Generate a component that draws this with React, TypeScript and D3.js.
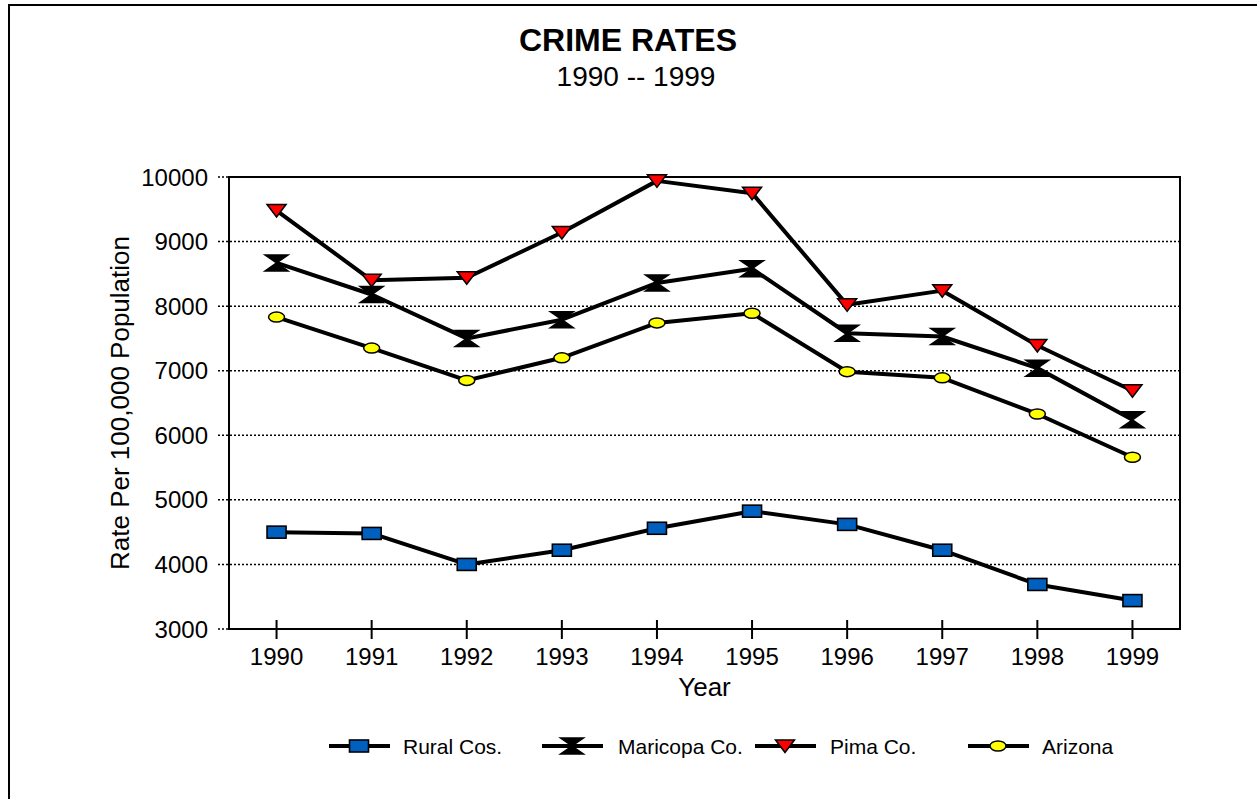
import React from "react";
import * as d3 from "d3";

// Crime rate per 100,000 population, 1990–1999
const years = ["1990", "1991", "1992", "1993", "1994", "1995", "1996", "1997", "1998", "1999"];
const ruralCos = [4500, 4480, 4000, 4220, 4560, 4825, 4620, 4220, 3690, 3440];
const maricopaCo = [8670, 8180, 7500, 7790, 8360, 8580, 7580, 7530, 7040, 6240];
const pimaCo = [9480, 8400, 8440, 9140, 9940, 9750, 8020, 8240, 7390, 6690];
const arizona = [7830, 7350, 6850, 7200, 7740, 7890, 6985, 6890, 6330, 5660];
const yTicks = [3000, 4000, 5000, 6000, 7000, 8000, 9000, 10000];

const W = 1257;
const H = 799;
const plot = { left: 229, right: 1180, top: 177, bottom: 629 };
const FONT = "Arial, 'Liberation Sans', sans-serif";

type MarkerKind = "square" | "hourglass" | "triangle" | "ellipse";

const seriesList: { name: string; values: number[]; marker: MarkerKind }[] = [
  { name: "Rural Cos.", values: ruralCos, marker: "square" },
  { name: "Maricopa Co.", values: maricopaCo, marker: "hourglass" },
  { name: "Pima Co.", values: pimaCo, marker: "triangle" },
  { name: "Arizona", values: arizona, marker: "ellipse" },
];

function Marker({ kind, x, y }: { kind: MarkerKind; x: number; y: number }) {
  switch (kind) {
    case "square":
      return <rect x={x - 9.5} y={y - 6} width={19} height={12} fill="#0060C0" stroke="#000" strokeWidth={1.6} />;
    case "hourglass":
      return (
        <path
          d={`M${x - 11.5},${y - 8} L${x + 11.5},${y - 8} L${x},${y} L${x + 11.5},${y + 8} L${x - 11.5},${y + 8} L${x},${y} Z`}
          fill="#000"
          stroke="#000"
          strokeWidth={1.5}
          strokeLinejoin="miter"
        />
      );
    case "triangle":
      return (
        <path
          d={`M${x - 9.5},${y - 6} L${x + 9.5},${y - 6} L${x},${y + 6.5} Z`}
          fill="#FF0000"
          stroke="#000"
          strokeWidth={1.5}
        />
      );
    case "ellipse":
      return <ellipse cx={x} cy={y} rx={8} ry={5} fill="#FFFF00" stroke="#000" strokeWidth={1.5} />;
  }
}

export default function App() {
  const x = d3.scaleBand<string>().domain(years).range([plot.left, plot.right]);
  const cx = (yr: string) => (x(yr) as number) + x.bandwidth() / 2;
  const y = d3.scaleLinear().domain([3000, 10000]).range([plot.bottom, plot.top]);

  const line = d3
    .line<number>()
    .x((_, i) => cx(years[i]))
    .y((v) => y(v));

  const legendItems = [
    { x0: 329, tx: 403 },
    { x0: 542, tx: 618 },
    { x0: 755, tx: 830 },
    { x0: 968, tx: 1042 },
  ];
  const legendY = 746;

  return (
    <svg
      width={W}
      height={H}
      style={{ position: "absolute", left: 0, top: 0, background: "#fff" }}
      fontFamily={FONT}
    >
      <rect x={0} y={0} width={W} height={H} fill="#fff" />
      {/* outer chart border */}
      <path d={`M9,${H + 5} V5 H${W + 5}`} fill="none" stroke="#000" strokeWidth={2} />

      {/* title */}
      <text x={628} y={51} textAnchor="middle" fontSize={32} fontWeight="bold">
        CRIME RATES
      </text>
      <text x={636} y={86} textAnchor="middle" fontSize={28}>
        1990 -- 1999
      </text>

      {/* gridlines and y ticks */}
      {yTicks.map((t) => (
        <line
          key={t}
          x1={218}
          x2={t === 3000 || t === 10000 ? plot.left : plot.right}
          y1={y(t)}
          y2={y(t)}
          stroke="#000"
          strokeWidth={1.5}
          strokeDasharray="2,2"
        />
      ))}
      {yTicks.map((t) => (
        <text key={"l" + t} x={208} y={y(t) + 8.5} textAnchor="end" fontSize={24}>
          {t}
        </text>
      ))}

      {/* plot frame */}
      <rect
        x={plot.left}
        y={plot.top}
        width={plot.right - plot.left}
        height={plot.bottom - plot.top}
        fill="none"
        stroke="#000"
        strokeWidth={2}
      />

      {/* x ticks and labels */}
      {years.map((yr) => (
        <g key={yr}>
          <line x1={cx(yr)} x2={cx(yr)} y1={plot.bottom - 9} y2={plot.bottom + 10} stroke="#000" strokeWidth={2} />
          <text x={cx(yr)} y={665} textAnchor="middle" fontSize={24}>
            {yr}
          </text>
        </g>
      ))}

      {/* axis titles */}
      <text x={(plot.left + plot.right) / 2} y={696} textAnchor="middle" fontSize={26}>
        Year
      </text>
      <text
        transform={`translate(129,${(plot.top + plot.bottom) / 2}) rotate(-90)`}
        textAnchor="middle"
        fontSize={26}
      >
        Rate Per 100,000 Population
      </text>

      {/* series */}
      {seriesList.map((s) => (
        <g key={s.name}>
          <path d={line(s.values) || ""} fill="none" stroke="#000" strokeWidth={4} strokeLinejoin="round" />
          {s.values.map((v, i) => (
            <Marker key={i} kind={s.marker} x={cx(years[i])} y={y(v)} />
          ))}
        </g>
      ))}

      {/* legend */}
      {seriesList.map((s, i) => {
        const it = legendItems[i];
        const mx = it.x0 + 30;
        return (
          <g key={"lg" + s.name}>
            <line x1={it.x0} x2={it.x0 + 61} y1={legendY} y2={legendY} stroke="#000" strokeWidth={4} />
            <Marker kind={s.marker} x={mx} y={legendY} />
            <text x={it.tx} y={legendY + 8} fontSize={21}>
              {s.name}
            </text>
          </g>
        );
      })}
    </svg>
  );
}
